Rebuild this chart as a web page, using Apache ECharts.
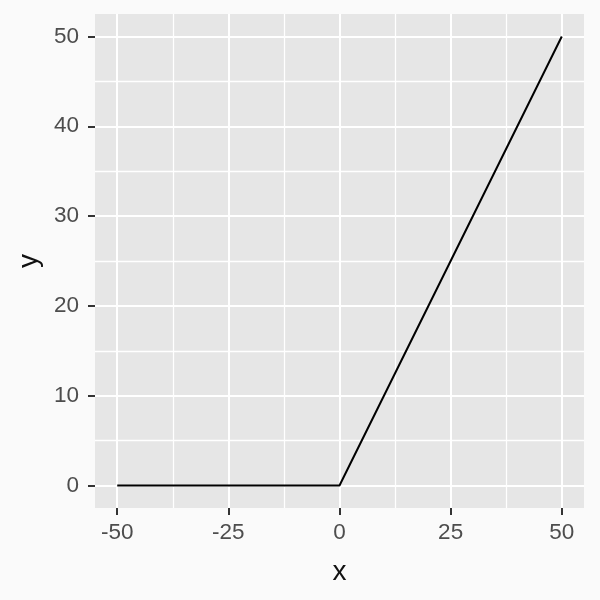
<!DOCTYPE html>
<html>
<head>
<meta charset="utf-8">
<script src="https://cdn.jsdelivr.net/npm/echarts@6/dist/echarts.min.js"></script>
<style>html,body{margin:0;padding:0;background:#fafafa;}#c{width:600px;height:600px;}</style>
</head>
<body>
<div id="c"></div>
<script>
const xData = [-50, 0, 50];
const yData = [0, 0, 50];
const xTicks = [-50, -25, 0, 25, 50];
const xMinor = [-37.5, -12.5, 12.5, 37.5];
const yTicks = [0, 10, 20, 30, 40, 50];
const yMinor = [5, 15, 25, 35, 45];

const chart = echarts.init(document.getElementById('c'), null, {renderer: 'canvas'});
const grid = [];
xMinor.forEach(v => grid.push({xAxis: v, lineStyle: {width: 1.3}}));
yMinor.forEach(v => grid.push({yAxis: v, lineStyle: {width: 1.3}}));
xTicks.forEach(v => grid.push({xAxis: v, lineStyle: {width: 2}}));
yTicks.forEach(v => grid.push({yAxis: v, lineStyle: {width: 2}}));

const labelStyle = {color: '#4d4d4d', fontSize: 22.5, fontFamily: 'Liberation Sans, Arial, sans-serif'};
chart.setOption({
  backgroundColor: '#fafafa',
  animation: false,
  grid: {left: 95, right: 16, top: 14, bottom: 92, show: true, backgroundColor: '#E6E6E6', borderWidth: 0},
  xAxis: {
    type: 'value', min: -55, max: 55, position: 'bottom',
    name: 'x', nameLocation: 'middle', nameGap: 50,
    nameTextStyle: {color: '#111', fontSize: 28, fontFamily: 'Liberation Sans, Arial, sans-serif'},
    axisLine: {show: true, onZero: false, lineStyle: {color: 'rgba(0,0,0,0)'}},
    axisTick: {show: true, inside: false, length: 7, customValues: xTicks, lineStyle: {color: '#333', width: 2}},
    axisLabel: Object.assign({margin: 13, customValues: xTicks, formatter: v => String(v)}, labelStyle),
    splitLine: {show: false}
  },
  yAxis: {
    type: 'value', min: -2.5, max: 52.5,
    name: 'y', nameLocation: 'middle', nameGap: 44, nameRotate: 90,
    nameTextStyle: {color: '#111', fontSize: 28, fontFamily: 'Liberation Sans, Arial, sans-serif'},
    axisLine: {show: true, onZero: false, lineStyle: {color: 'rgba(0,0,0,0)'}},
    axisTick: {show: true, length: 7, customValues: yTicks, lineStyle: {color: '#333', width: 2}},
    axisLabel: Object.assign({margin: 16, customValues: yTicks, formatter: v => String(v)}, labelStyle),
    splitLine: {show: false}
  },
  series: [
    {
      type: 'line', data: [], z: 1, silent: true,
      markLine: {
        silent: true, symbol: 'none', z: 1, animation: false,
        label: {show: false},
        lineStyle: {color: '#ffffff', type: 'solid'},
        emphasis: {disabled: true},
        data: grid
      }
    },
    {
      type: 'line', z: 3,
      data: xData.map((x, i) => [x, yData[i]]),
      showSymbol: false, symbol: 'none',
      lineStyle: {color: '#000', width: 2},
      silent: true
    }
  ]
});
</script>
</body>
</html>
